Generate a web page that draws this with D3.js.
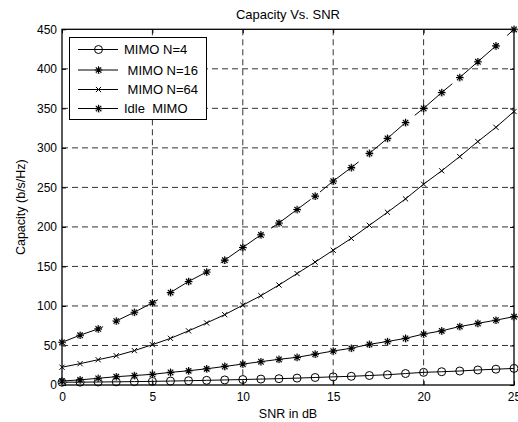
<!DOCTYPE html>
<html>
<head>
<meta charset="utf-8">
<script src="https://cdn.jsdelivr.net/npm/d3@7"></script>
<style>
  html, body { margin: 0; padding: 0; background: #fff; overflow: hidden; }
  svg { display: block; font-family: "Liberation Sans", Arial, Helvetica, sans-serif; }
</style>
</head>
<body>
<svg id="chart" width="518" height="422"></svg>
<script>
// ---- data ----
const snrDb = [0,1,2,3,4,5,6,7,8,9,10,11,12,13,14,15,16,17,18,19,20,21,22,23,24,25];
const mimoN4 = [3.5,3.6,3.8,4.0,4.3,4.6,5.0,5.4,5.9,6.4,6.9,7.5,8.0,8.7,9.5,10.3,11.0,12.0,13.0,14.5,16.0,16.8,17.7,19.0,20.0,21.0];
const mimoN16 = [5,6.5,8.5,10.5,12,13.5,16,18,20.5,23.5,26.5,29.5,32.5,35,39,43,46.5,51.5,55,59,64.5,68.5,74,78,82,86.5];
const mimoN64 = [22.5,27,32,37,43.5,51,59,68.5,78.5,89,101,113,126.5,141,155.5,170.5,185.5,202,218.5,235.5,254,271,289,308,326,346];
const idleMimo = [54,63,71,81,92,104,117,131,143,158,174,190,205,222,239,258,275,293,312,332,350,370,389,409,429,450];
const seriesNames = ["MIMO N=4", " MIMO N=16", " MIMO N=64", "Idle  MIMO"];
const seriesMarkers = ["circle", "star", "x", "star"];
const xTicks = [0,5,10,15,20,25];
const yTicks = [0,50,100,150,200,250,300,350,400,450];
const titleText = "Capacity Vs. SNR";
const xLabel = "SNR in dB";
const yLabel = "Capacity (b/s/Hz)";

const seriesValues = [mimoN4, mimoN16, mimoN64, idleMimo];

// ---- layout ----
const svg = d3.select("#chart");
const L = 62, R = 514, T = 29.3, B = 385;
const x = d3.scaleLinear().domain([0, 25]).range([L, R]);
const y = d3.scaleLinear().domain([0, 450]).range([B, T]);

// grid
const grid = svg.append("g").attr("stroke", "#333").attr("stroke-width", 1)
  .attr("stroke-dasharray", "6,4").attr("fill", "none");
grid.selectAll("line.vx").data(xTicks.slice(1, -1)).join("line")
  .attr("x1", d => x(d)).attr("x2", d => x(d)).attr("y1", T).attr("y2", B);
grid.selectAll("line.hy").data(yTicks.slice(1, -1)).join("line")
  .attr("y1", d => y(d)).attr("y2", d => y(d)).attr("x1", L).attr("x2", R);

// axes
function styleAxis(g) {
  g.select(".domain").remove();
  g.selectAll(".tick line").attr("stroke", "#000");
  g.selectAll(".tick text").attr("fill", "#000").style("font-size", "12px")
   .style("font-family", "'Liberation Sans', Arial, sans-serif");
}
svg.append("g").attr("transform", `translate(0,${B})`)
  .call(d3.axisBottom(x).tickValues(xTicks).tickSize(-4).tickSizeOuter(0).tickPadding(7))
  .call(styleAxis);
svg.append("g").attr("transform", `translate(0,${T})`)
  .call(d3.axisTop(x).tickValues(xTicks).tickSize(-4).tickSizeOuter(0).tickFormat(""))
  .call(styleAxis);
svg.append("g").attr("transform", `translate(${L},0)`)
  .call(d3.axisLeft(y).tickValues(yTicks).tickSize(-4).tickSizeOuter(0).tickPadding(5))
  .call(styleAxis);
svg.append("g").attr("transform", `translate(${R},0)`)
  .call(d3.axisRight(y).tickValues(yTicks).tickSize(-4).tickSizeOuter(0).tickFormat(""))
  .call(styleAxis);

// box
svg.append("rect").attr("x", L).attr("y", T).attr("width", R - L).attr("height", B - T)
  .attr("fill", "none").attr("stroke", "#000").attr("stroke-width", 1.3);

// markers
function markerPath(type) {
  if (type === "circle") return "M-4,0a4,4 0 1,0 8,0a4,4 0 1,0 -8,0";
  if (type === "x") return "M-2.6,-2.6L2.6,2.6M-2.6,2.6L2.6,-2.6";
  return "M-3.8,0H3.8M0,-3.8V3.8M-2.7,-2.7L2.7,2.7M-2.7,2.7L2.7,-2.7";
}
function drawMarker(g, type, cx, cy) {
  if (type === "star") {
    g.append("path").attr("d", markerPath(type)).attr("transform", `translate(${cx + 0.7},${cy + 0.7})`)
      .attr("stroke", "#999").attr("stroke-width", 1.4).attr("stroke-dasharray", "1,1").attr("fill", "none");
    g.append("path").attr("d", markerPath(type)).attr("transform", `translate(${cx},${cy})`)
      .attr("stroke", "#000").attr("stroke-width", 1.1).attr("fill", "none");
  } else {
    g.append("path").attr("d", markerPath(type)).attr("transform", `translate(${cx},${cy})`)
      .attr("stroke", "#000").attr("stroke-width", 1).attr("fill", "none");
  }
}

const line = d3.line().x((d, i) => x(snrDb[i])).y(d => y(d));
const plot = svg.append("g");
seriesValues.forEach((vals, si) => {
  const p = plot.append("path").datum(vals).attr("d", line)
    .attr("fill", "none").attr("stroke", "#000").attr("stroke-width", 1);
  if (si === 3) p.attr("stroke-dasharray", "49,12").attr("stroke-dashoffset", 5);
  vals.forEach((v, i) => drawMarker(plot, seriesMarkers[si], x(snrDb[i]), y(v)));
});

// legend
const lg = svg.append("g");
lg.append("rect").attr("x", 69.5).attr("y", 37.5).attr("width", 137).attr("height", 82)
  .attr("fill", "#fff").attr("stroke", "#000").attr("stroke-width", 1);
const legendY = [49.5, 70, 89.5, 108.5];
seriesNames.forEach((name, i) => {
  lg.append("line").attr("x1", 78).attr("x2", 118).attr("y1", legendY[i]).attr("y2", legendY[i])
    .attr("stroke", "#000").attr("stroke-width", 1);
  drawMarker(lg, seriesMarkers[i], 98.5, legendY[i]);
  lg.append("text").attr("x", 124).attr("y", legendY[i]).attr("dy", "0.36em")
    .attr("xml:space", "preserve").style("white-space", "pre")
    .style("font-size", "13px").text(name);
});

// titles
svg.append("text").attr("x", (L + R) / 2).attr("y", 19).attr("text-anchor", "middle")
  .style("font-size", "13px").text(titleText);
svg.append("text").attr("x", (L + R) / 2).attr("y", 418).attr("text-anchor", "middle")
  .style("font-size", "12.5px").text(xLabel);
svg.append("text").attr("transform", `translate(25,${(T + B) / 2}) rotate(-90)`)
  .attr("text-anchor", "middle").style("font-size", "12.5px").text(yLabel);
</script>
</body>
</html>
